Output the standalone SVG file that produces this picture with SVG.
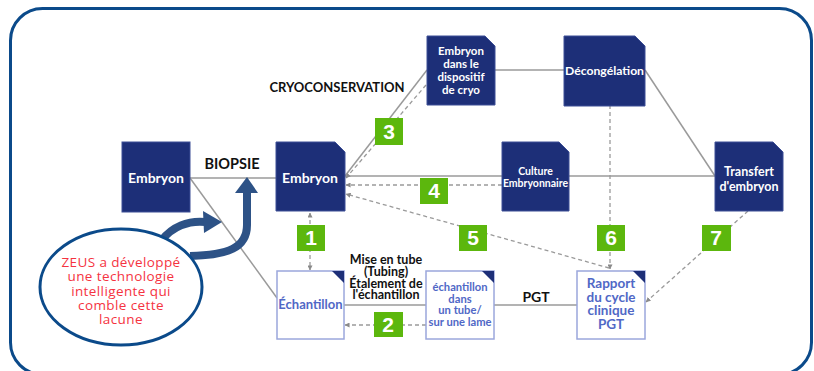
<svg xmlns="http://www.w3.org/2000/svg" width="814" height="371" viewBox="0 0 814 371">
<defs>
<marker id="ah" viewBox="0 0 6 6" refX="5.5" refY="3" markerWidth="5" markerHeight="5" orient="auto-start-reverse" markerUnits="userSpaceOnUse">
<path d="M0,0 L6,3 L0,6 Z" fill="#8a8a8a"/>
</marker>
</defs>
<style>
.dk{fill:#1d2f78;stroke:#3d4f96;stroke-width:1}
.lt{fill:#fff;stroke:#9ba7dc;stroke-width:1.5}
.tri{fill:#1d2f78}
.wt{font-family:Lato,"Open Sans",sans-serif;font-weight:bold;fill:#fff;text-anchor:middle}
.bt{font-family:Lato,"Open Sans",sans-serif;font-weight:bold;fill:#5068c6;text-anchor:middle}
.lbl{font-family:Lato,"Liberation Sans",sans-serif;font-weight:bold;fill:#111;text-anchor:middle}
.sol{stroke:#9a9a9a;stroke-width:1.5;fill:none}
.dsh{stroke:#9a9a9a;stroke-width:1.3;stroke-dasharray:4 3;fill:none}
.gb{fill:#5cb70d}
.gn{font-family:"Liberation Sans",Arial,sans-serif;font-weight:bold;font-size:21px;fill:#fff;text-anchor:middle}
.red{font-family:"Open Sans",sans-serif;font-size:13.5px;letter-spacing:0.4px;fill:#f5333f;text-anchor:middle}
.big{stroke:#2d5286;stroke-width:8;fill:none}
</style>
<rect x="10.5" y="8.5" width="801" height="366" rx="32" fill="none" stroke="#0b4a8a" stroke-width="3"/>

<g id="connectors">
<line class="sol" x1="190" y1="178" x2="276" y2="178" stroke-width="2.5"/>
<line class="sol" x1="190" y1="178" x2="277" y2="298"/>
<line class="sol" x1="345" y1="176" x2="715" y2="176"/>
<line class="sol" x1="345" y1="176" x2="427" y2="70"/>
<line class="sol" x1="495" y1="70" x2="564" y2="70"/>
<line class="sol" x1="645" y1="70" x2="715" y2="176"/>
<line class="sol" x1="344" y1="305" x2="426" y2="305"/>
<line class="sol" x1="494" y1="305" x2="577" y2="305"/>
<line class="dsh" x1="426" y1="85" x2="346" y2="178" marker-end="url(#ah)"/>
<line class="dsh" x1="502" y1="185" x2="346" y2="185" marker-end="url(#ah)"/>
<line class="dsh" x1="609" y1="268" x2="346" y2="194" marker-end="url(#ah)"/>
<line class="dsh" x1="610" y1="105" x2="610" y2="269" marker-end="url(#ah)"/>
<line class="dsh" x1="748" y1="211" x2="646" y2="302" marker-end="url(#ah)"/>
<line class="dsh" x1="310" y1="213" x2="310" y2="270" marker-start="url(#ah)" marker-end="url(#ah)"/>
<line class="dsh" x1="426" y1="325" x2="345" y2="325" marker-end="url(#ah)"/>
</g>

<g id="badges">
<rect class="gb" x="375" y="118" width="28" height="27"/><text class="gn" x="389" y="139">3</text>
<rect class="gb" x="420" y="178" width="28" height="26"/><text class="gn" x="434" y="198">4</text>
<rect class="gb" x="297" y="225" width="28" height="26"/><text class="gn" x="311" y="245">1</text>
<rect class="gb" x="459" y="225" width="28" height="26"/><text class="gn" x="473" y="245">5</text>
<rect class="gb" x="597" y="225" width="28" height="26"/><text class="gn" x="611" y="245">6</text>
<rect class="gb" x="702" y="225" width="29" height="26"/><text class="gn" x="716" y="245">7</text>
<rect class="gb" x="374" y="312" width="29" height="25"/><text class="gn" x="388" y="332">2</text>
</g>

<g id="labels">
<text class="lbl" x="232" y="169" font-size="14.5" font-family="'Liberation Sans',Arial,sans-serif">BIOPSIE</text>
<text class="lbl" x="337" y="92" font-size="13">CRYOCONSERVATION</text>
<text class="lbl" x="536" y="302" font-size="14">PGT</text>
<text class="lbl" font-size="12.5"><tspan x="386" y="264">Mise en tube</tspan><tspan x="386" y="276">(Tubing)</tspan><tspan x="386" y="287.5">Étalement de</tspan><tspan x="386" y="299">l'échantillon</tspan></text>
</g>

<g id="n-embryon1">
<rect class="dk" x="122" y="142" width="68" height="70"/>
<text class="wt" x="156" y="182.5" font-size="14">Embryon</text>
</g>
<g id="n-embryon2">
<path class="dk" d="M276,142 H335 L345,152 V211 H276 Z"/>
<text class="wt" x="310" y="182.5" font-size="14">Embryon</text>
</g>
<g id="n-cryo">
<path class="dk" d="M427,36 H485 L495,46 V105 H427 Z"/>
<text class="wt" font-size="11.5"><tspan x="461" y="55">Embryon</tspan><tspan x="461" y="68">dans le</tspan><tspan x="461" y="81">dispositif</tspan><tspan x="461" y="94">de cryo</tspan></text>
</g>
<g id="n-decongelation">
<path class="dk" d="M564,36 H635 L645,46 V106 H564 Z"/>
<text class="wt" x="604.5" y="75" font-size="11.5" textLength="79" lengthAdjust="spacingAndGlyphs">Décongélation</text>
</g>
<g id="n-culture">
<path class="dk" d="M502,142 H559 L569,152 V211 H502 Z"/>
<text class="wt" font-size="10.5"><tspan x="535.5" y="175">Culture</tspan><tspan x="535.5" y="187">Embryonnaire</tspan></text>
</g>
<g id="n-transfert">
<path class="dk" d="M715,142 H773 L783,152 V211 H715 Z"/>
<text class="wt" font-size="12.5"><tspan x="749" y="176">Transfert</tspan><tspan x="749" y="191">d'embryon</tspan></text>
</g>
<g id="n-echantillon">
<rect class="lt" x="277" y="271" width="67" height="68"/>
<polygon class="tri" points="332,271 344,271 344,283"/>
<text class="bt" x="310.5" y="309" font-size="13">Échantillon</text>
</g>
<g id="n-tube">
<rect class="lt" x="426" y="271" width="68" height="68"/>
<polygon class="tri" points="482,271 494,271 494,283"/>
<text class="bt" font-size="11.2"><tspan x="460" y="291">échantillon</tspan><tspan x="460" y="302.5">dans</tspan><tspan x="460" y="314">un tube/</tspan><tspan x="460" y="325.5">sur une lame</tspan></text>
</g>
<g id="n-rapport">
<rect class="lt" x="577" y="271" width="68" height="68"/>
<polygon class="tri" points="633,271 645,271 645,283"/>
<text class="bt" font-size="13.5"><tspan x="611" y="288">Rapport</tspan><tspan x="611" y="301.5">du cycle</tspan><tspan x="611" y="315">clinique</tspan><tspan x="611" y="328.5">PGT</tspan></text>
</g>

<g id="zeus-arrows">
<path class="big" d="M162,240 C172,227 188,220 206,222"/>
<polygon points="203,211 222,222 204,233" fill="#2d5286"/>
<path class="big" d="M190,256 C228,255 247,248 247,225 L247,192"/>
<polygon points="235,193 247,177 258,193" fill="#2d5286"/>
</g>
<g id="n-zeus">
<ellipse cx="121" cy="287" rx="81" ry="58" fill="#fff" stroke="#0b4a8a" stroke-width="3"/>
<text class="red"><tspan x="121" y="267">ZEUS a développé</tspan><tspan x="121" y="281">une technologie</tspan><tspan x="121" y="295.5">intelligente qui</tspan><tspan x="121" y="310">comble cette</tspan><tspan x="121" y="324">lacune</tspan></text>
</g>
</svg>
